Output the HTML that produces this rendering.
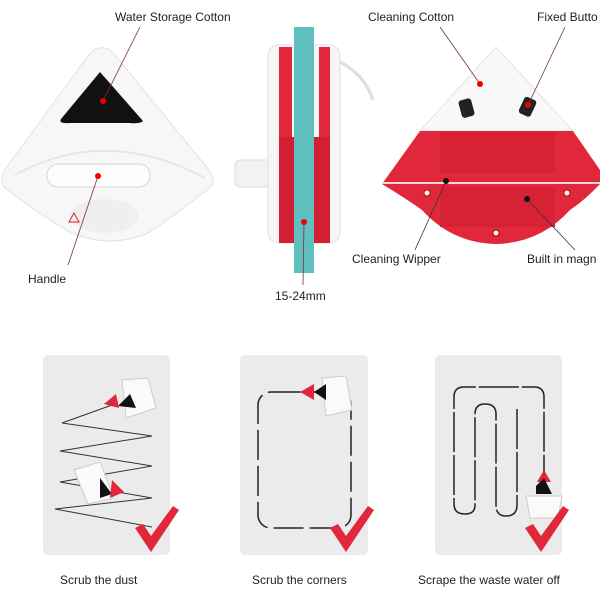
<!DOCTYPE html>
<html><head><meta charset="utf-8"><style>
body{margin:0;background:#fff;width:600px;height:600px;overflow:hidden;font-family:"Liberation Sans",sans-serif}
</style></head><body>
<svg width="600" height="600" viewBox="0 0 600 600" xmlns="http://www.w3.org/2000/svg" font-family="Liberation Sans, sans-serif" font-size="12" fill="#222">
<!-- left device -->
<path d="M100 48 Q106 46 114 54 L205 165 Q216 178 212 186 Q175 215 150 232 Q110 250 70 232 Q40 215 5 188 Q-2 180 6 168 L88 56 Q94 48 100 48Z" fill="#f7f7f7" stroke="#e2e2e2"/>
<path d="M15 175 Q105 125 205 178" fill="none" stroke="#e6e6e6" stroke-width="2"/>
<path d="M100 72 L143 121 Q140 124 130 123 L70 123 Q58 124 61 119 Z" fill="#111"/>
<rect x="47" y="164" width="103" height="23" rx="11" fill="#fdfdfd" stroke="#d5d5d5"/>
<ellipse cx="104" cy="216" rx="34" ry="17" fill="#efefef"/>
<path d="M69 222 l5 -9 l5 9 z" fill="none" stroke="#d22" stroke-width="1"/>
<text x="115" y="21">Water Storage Cotton</text>
<line x1="140" y1="27" x2="103" y2="101" stroke="#733" stroke-width="0.8"/>
<circle cx="103" cy="101" r="3" fill="#e00"/>
<text x="28" y="283">Handle</text>
<line x1="68" y1="265" x2="98" y2="176" stroke="#733" stroke-width="0.8"/>
<circle cx="98" cy="176" r="3" fill="#e00"/>
<!-- middle device -->
<path d="M340 62 Q365 75 373 100" stroke="#ddd" fill="none" stroke-width="3"/>
<rect x="235" y="160" width="36" height="27" rx="5" fill="#f2f2f2" stroke="#ddd"/>
<rect x="268" y="45" width="72" height="198" rx="10" fill="#f6f6f6" stroke="#e2e2e2"/>
<rect x="279" y="47" width="13" height="196" fill="#e0283a"/>
<rect x="279" y="137" width="18" height="106" fill="#d31f33"/>
<rect x="319" y="47" width="11" height="196" fill="#e0283a"/>
<rect x="312" y="137" width="18" height="106" fill="#d31f33"/>
<rect x="294" y="27" width="20" height="246" fill="#5fbfbf"/>
<circle cx="304" cy="222" r="3" fill="#e00"/>
<line x1="304" y1="222" x2="303" y2="285" stroke="#733" stroke-width="0.8"/>
<text x="275" y="300">15-24mm</text>
<!-- right device -->
<path d="M496 47 L573 131 L420 131 Z" fill="#f8f8f8" stroke="#e3e3e3" stroke-linejoin="round"/>
<path d="M420 131 L573 131 L600 170 L600 184 L382 184 Z" fill="#e0283a"/>
<path d="M382 184 L600 184 Q585 200 570 210 Q540 243 496 244 Q452 243 422 210 Q405 198 382 184Z" fill="#e0283a"/>
<rect x="440" y="132" width="115" height="41" fill="#d72236"/>
<rect x="440" y="187" width="115" height="40" fill="#d72236"/>
<line x1="382" y1="183" x2="600" y2="183" stroke="#f4d4d8" stroke-width="2"/>
<rect x="460" y="99" width="13" height="18" rx="3" fill="#222" transform="rotate(-15 467 108)"/>
<rect x="521" y="98" width="13" height="18" rx="3" fill="#222" transform="rotate(25 528 107)"/>
<circle cx="427" cy="193" r="3" fill="#fff" stroke="#a11"/><circle cx="567" cy="193" r="3" fill="#fff" stroke="#a11"/><circle cx="496" cy="233" r="3" fill="#fff" stroke="#a11"/>
<text x="368" y="21">Cleaning Cotton</text>
<text x="537" y="21">Fixed Butto</text>
<line x1="440" y1="27" x2="480" y2="84" stroke="#733" stroke-width="0.8"/><circle cx="480" cy="84" r="3" fill="#e00"/>
<line x1="565" y1="27" x2="528" y2="105" stroke="#733" stroke-width="0.8"/><circle cx="528" cy="105" r="3" fill="#e00"/>
<text x="352" y="263">Cleaning Wipper</text>
<text x="527" y="263">Built in magn</text>
<line x1="415" y1="250" x2="446" y2="181" stroke="#333" stroke-width="0.8"/><circle cx="446" cy="181" r="3" fill="#111"/>
<line x1="575" y1="250" x2="527" y2="199" stroke="#333" stroke-width="0.8"/><circle cx="527" cy="199" r="3" fill="#111"/>
<!-- panels -->
<rect x="43" y="355" width="127" height="200" rx="5" fill="#ebebeb"/>
<rect x="240" y="355" width="128" height="200" rx="5" fill="#ebebeb"/>
<rect x="435" y="355" width="127" height="200" rx="5" fill="#ebebeb"/>
<!-- zigzag -->
<polyline points="112,405 62,423 152,436 60,451 152,466 60,482 152,498 55,509 152,527" fill="none" stroke="#333" stroke-width="1"/>
<path d="M122 380 l26 -2 l8 30 l-30 10 z" fill="#fafafa" stroke="#ccc"/>
<path d="M118 406 l12 -12 l6 14 z" fill="#111"/>
<path d="M104 404 l12 -10 l3 14 z" fill="#e0283a"/>
<path d="M74 470 l26 -8 l14 36 l-26 6 z" fill="#fafafa" stroke="#ccc"/>
<path d="M100 478 l12 16 l-12 4 z" fill="#111"/>
<path d="M112 480 l12 12 l-14 6 z" fill="#e0283a"/>
<!-- corners -->
<rect x="258" y="392" width="93" height="136" rx="13" fill="none" stroke="#222" stroke-dasharray="30 6" stroke-width="1.5"/>
<path d="M322 378 l24 -2 l6 34 l-26 6 z" fill="#fafafa" stroke="#ccc"/>
<path d="M314 392 l12 -8 l0 16 z" fill="#111"/>
<path d="M300 392 l14 -8 l0 16 z" fill="#e0283a"/>
<!-- serpentine -->
<path d="M517 409 L517 505 Q517 516 506 516 Q496 516 496 505 L496 414 Q496 404 485 404 Q475 404 475 414 L475 505 Q475 514 465 514 Q454 514 454 504 L454 397 Q454 387 464 387 L534 387 Q544 387 544 397 L544 474" fill="none" stroke="#222" stroke-width="1.5" stroke-dasharray="40 3"/>
<path d="M544 470 l-7 12 l14 0 z" fill="#e0283a"/>
<path d="M536 486 l8 -8 l8 16 l-16 0 z" fill="#111"/>
<path d="M526 496 l36 0 l-4 22 l-28 0 z" fill="#fafafa" stroke="#ccc"/>
<!-- checks -->
<g fill="#e0283a">
<path d="M135 528 l8 -4 l8 12 l22 -30 l6 4 l-28 42 z"/>
<path d="M330 528 l8 -4 l8 12 l22 -30 l6 4 l-28 42 z"/>
<path d="M525 528 l8 -4 l8 12 l22 -30 l6 4 l-28 42 z"/>
</g>
<text x="60" y="584">Scrub the dust</text>
<text x="252" y="584">Scrub the corners</text>
<text x="418" y="584">Scrape the waste water off</text>
</svg>
</body></html>
